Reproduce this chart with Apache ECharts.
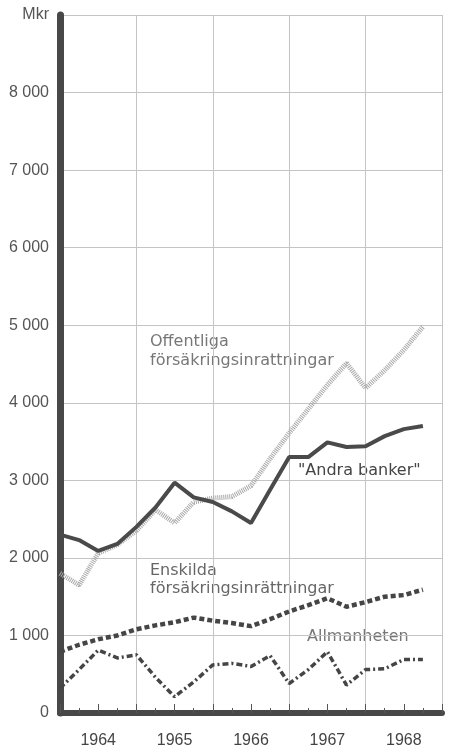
<!DOCTYPE html>
<html>
<head>
<meta charset="utf-8">
<script src="https://cdn.jsdelivr.net/npm/echarts@6/dist/echarts.min.js"></script>
<style>
  html, body { margin: 0; padding: 0; background: #fff; }
  #chart { width: 450px; height: 752px; }
</style>
</head>
<body>
<div id="chart"></div>
<script>
// quarters since start of 1964 (0 = 1964 start)
const quarters = [0, 0.25, 0.5, 0.75, 1, 1.25, 1.5, 1.75, 2, 2.25, 2.5, 2.75, 3, 3.25, 3.5, 3.75, 4, 4.25, 4.5, 4.75]
const years = ['1964', '1965', '1966', '1967', '1968']

// Mkr
const andraBanker = [2300, 2230, 2090, 2180, 2400, 2650, 2970, 2780, 2720, 2600, 2450, 2880, 3300, 3300, 3490, 3430, 3440, 3570, 3660, 3700]
const offentliga = [1800, 1650, 2060, 2170, 2350, 2620, 2450, 2720, 2770, 2790, 2930, 3280, 3610, 3920, 4230, 4510, 4190, 4420, 4680, 4980]
const enskilda = [790, 880, 950, 1000, 1080, 1130, 1170, 1230, 1190, 1160, 1120, 1210, 1310, 1390, 1480, 1370, 1430, 1500, 1520, 1590]
const allmanheten = [320, 560, 810, 710, 750, 460, 210, 400, 620, 640, 600, 740, 380, 560, 790, 360, 560, 570, 690, 690]

const tickFont = 'Liberation Sans'
const noteFont = 'DejaVu Sans'

function pairs(values) {
  return quarters.map((q, i) => [q, values[i]])
}

const chart = echarts.init(document.getElementById('chart'))

chart.setOption({
  animation: false,
  grid: { left: 60, right: 8, top: 15, bottom: 39, containLabel: false },
  xAxis: [{
    // year grid lines
    type: 'value',
    min: 0,
    max: 5,
    interval: 1,
    axisLine: { show: false },
    axisTick: { show: false },
    axisLabel: { show: false },
    splitLine: { show: true, lineStyle: { color: '#c4c4c4', width: 1 } }
  }, {
    // quarter ticks and year labels
    type: 'value',
    min: 0,
    max: 5,
    interval: 0.5,
    position: 'bottom',
    axisLine: { show: true, onZero: false, lineStyle: { color: '#484848', width: 6 } },
    axisTick: { show: true, inside: true, length: 9, lineStyle: { color: '#555', width: 1 } },
    minorTick: { show: true, splitNumber: 2, length: 5, lineStyle: { color: '#555', width: 1 } },
    splitLine: { show: false },
    axisLabel: {
      margin: 20,
      color: '#444',
      fontFamily: tickFont,
      fontSize: 16,
      formatter: function (v) {
        const i = Math.floor(v)
        return (v - i === 0.5) ? years[i] : ''
      }
    }
  }],
  yAxis: {
    type: 'value',
    min: 0,
    max: 9000,
    interval: 1000,
    axisLine: { show: true, onZero: false, lineStyle: { color: '#484848', width: 7 } },
    axisTick: { show: false },
    splitLine: { show: true, lineStyle: { color: '#c4c4c4', width: 1 } },
    axisLabel: {
      margin: 11,
      color: '#555',
      fontFamily: tickFont,
      fontSize: 16,
      formatter: function (v) {
        if (v === 9000) return 'Mkr'
        if (v === 0) return '0'
        return (v / 1000) + ' 000'
      }
    }
  },
  series: [{
    name: 'Offentliga försäkringsinrättningar',
    type: 'line',
    xAxisIndex: 0,
    showSymbol: false,
    data: pairs(offentliga),
    lineStyle: { color: '#a9a9a9', width: 5, type: [1, 1] },
    z: 3
  }, {
    name: 'Andra banker',
    type: 'line',
    xAxisIndex: 0,
    showSymbol: false,
    data: pairs(andraBanker),
    lineStyle: { color: '#4a4a4a', width: 4 },
    z: 4
  }, {
    name: 'Enskilda försäkringsinrättningar',
    type: 'line',
    xAxisIndex: 0,
    showSymbol: false,
    data: pairs(enskilda),
    lineStyle: { color: '#454545', width: 4.5, type: [5, 3] },
    z: 4
  }, {
    name: 'Allmänheten',
    type: 'line',
    xAxisIndex: 0,
    showSymbol: false,
    data: pairs(allmanheten),
    lineStyle: { color: '#454545', width: 3.5, type: [6, 3, 2, 3] },
    z: 4
  }],
  graphic: [{
    type: 'text', left: 150, top: 332,
    style: { text: 'Offentliga\nförsäkringsinrattningar', fill: '#777', font: '16px "DejaVu Sans"', lineHeight: 19 }
  }, {
    type: 'text', left: 298, top: 463,
    style: { text: '"Andra banker"', fill: '#444', font: '16px "DejaVu Sans"', backgroundColor: '#fff' }
  }, {
    type: 'text', left: 150, top: 562,
    style: { text: 'Enskilda\nförsäkringsinrättningar', fill: '#666', font: '16px "DejaVu Sans"', lineHeight: 18 }
  }, {
    type: 'text', left: 304, top: 629,
    style: { text: 'Allmanheten', fill: '#777', font: '16px "DejaVu Sans"', backgroundColor: '#fff', padding: [0, 3] }
  }]
})
</script>
</body>
</html>
